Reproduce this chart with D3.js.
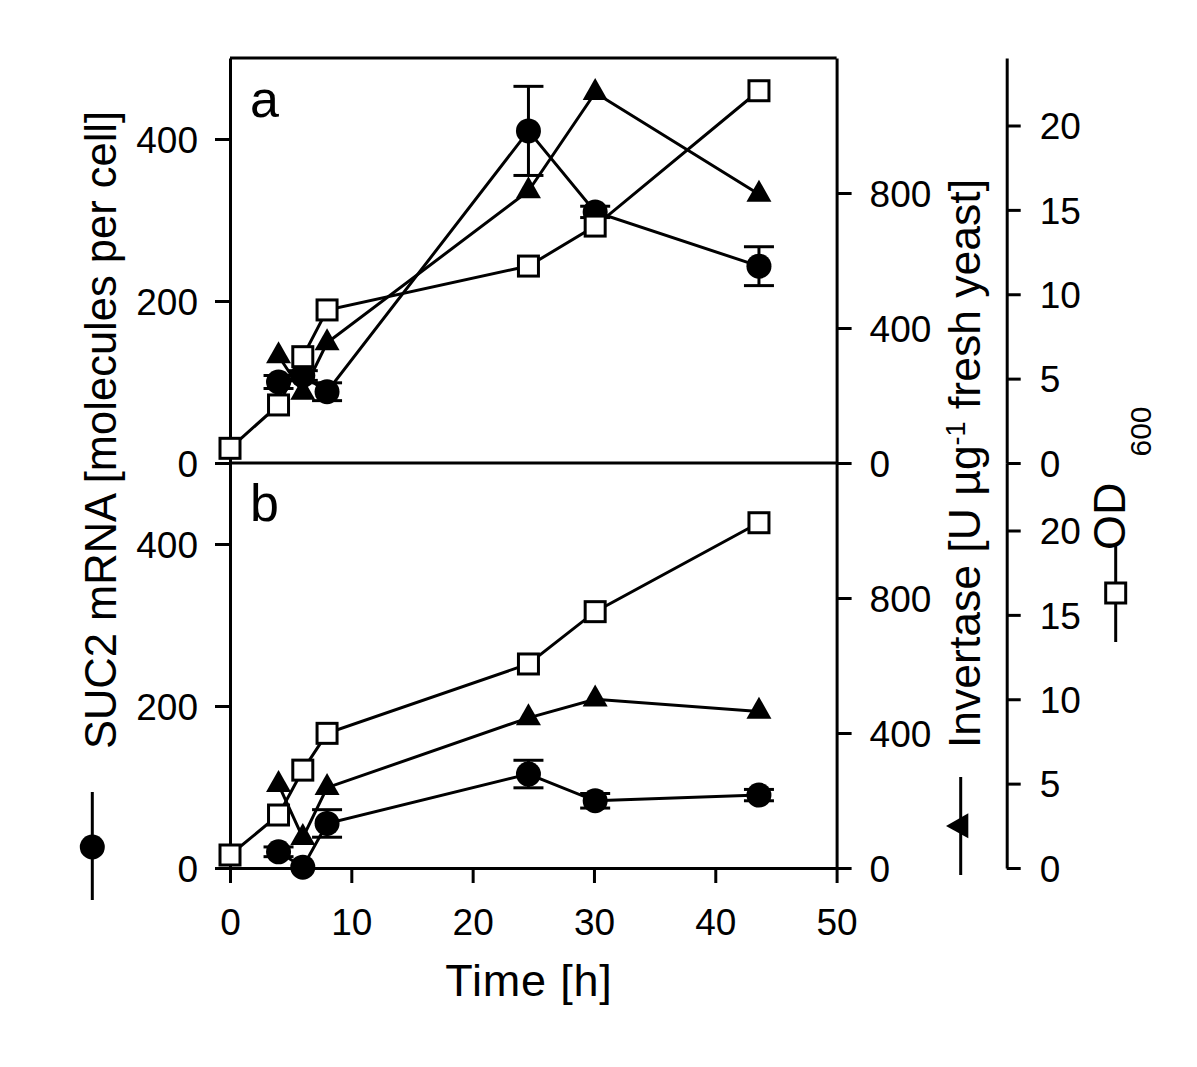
<!DOCTYPE html>
<html>
<head>
<meta charset="utf-8">
<script src="https://cdn.jsdelivr.net/npm/d3@7"></script>
<style>
  html, body { margin: 0; padding: 0; background: #fff; }
  svg text { font-family: "Liberation Sans", Arial, Helvetica, sans-serif; fill: #000; }
</style>
</head>
<body>
<svg id="chart" width="1197" height="1067"></svg>
<script>
// ---------------- data ----------------
const timeOD = [0, 4, 6, 8, 24.6, 30.1, 43.6];
const timeMR = [4, 6, 8, 24.6, 30.1, 43.6];

// panel a
const mrnaA    = [100, 108, 88, 410, 310, 243];
const mrnaAErr = [8, 6, 11, 55, 7, 24];
const invA     = [317, 209, 356, 806, 1097, 796];
const odA      = [0.87, 3.44, 6.3, 9.07, 11.67, 14.04, 22.06];

// panel b
const mrnaB    = [20, 1, 55, 116, 83, 90];
const mrnaBErr = [6, 0, 17, 17, 9, 7];
const invB     = [247, 90, 238, 445, 500, 464];
const odB      = [0.77, 3.14, 5.8, 7.98, 12.09, 15.19, 20.46];

const xTicks    = [0, 10, 20, 30, 40, 50];
const mrnaTicks = [0, 200, 400];
const invTicks  = [0, 400, 800];
const odTicks   = [0, 5, 10, 15, 20];

// ---------------- layout ----------------
const svg = d3.select("#chart");
svg.append("rect").attr("width", 1197).attr("height", 1067).attr("fill", "#fff");

const L = 230, R = 836.6, T = 58, M = 463, B = 868, OD_X = 1006.7;
const x = d3.scaleLinear().domain([0, 50]).range([L, R]);

const panels = [
  { top: T, bottom: M, mrna: mrnaA, err: mrnaAErr, inv: invA, od: odA, label: "a" },
  { top: M, bottom: B, mrna: mrnaB, err: mrnaBErr, inv: invB, od: odB, label: "b" }
];

const SW = 3;
const FS_TICK = 37;

function styleAxis(g) {
  g.selectAll("path.domain").attr("stroke", "#000").attr("stroke-width", SW);
  g.selectAll(".tick line").attr("stroke", "#000").attr("stroke-width", SW);
  g.selectAll(".tick text").attr("font-size", FS_TICK)
    .attr("font-family", '"Liberation Sans", Arial, sans-serif').attr("fill", "#000");
}

panels.forEach(p => {
  p.y = d3.scaleLinear().domain([0, 500]).range([p.bottom, p.top]);
  p.yi = d3.scaleLinear().domain([0, 1200]).range([p.bottom, p.top]);
  p.yo = d3.scaleLinear().domain([0, 24]).range([p.bottom, p.top]);

  // left axis
  const gl = svg.append("g").attr("transform", `translate(${L},0)`)
    .call(d3.axisLeft(p.y).tickValues(mrnaTicks).tickSize(15).tickSizeOuter(0).tickPadding(17));
  styleAxis(gl);
  gl.selectAll(".tick text").attr("dy", "0.36em");

  // right invertase axis
  const gr = svg.append("g").attr("transform", `translate(${R},0)`)
    .call(d3.axisRight(p.yi).tickValues(invTicks).tickSize(15).tickSizeOuter(0).tickPadding(18));
  styleAxis(gr);
  gr.selectAll(".tick text").attr("dy", "0.36em");

  // OD axis
  const go = svg.append("g").attr("transform", `translate(${OD_X},0)`)
    .call(d3.axisRight(p.yo).tickValues(odTicks).tickSize(14).tickSizeOuter(0).tickPadding(19));
  styleAxis(go);
  go.selectAll(".tick text").attr("dy", "0.36em");
});

// frame top/middle lines
[T, M].forEach(yy => {
  svg.append("line").attr("x1", L).attr("x2", R).attr("y1", yy).attr("y2", yy)
    .attr("stroke", "#000").attr("stroke-width", SW);
});

// x axis
const gx = svg.append("g").attr("transform", `translate(0,${B})`)
  .call(d3.axisBottom(x).tickValues(xTicks).tickSize(15).tickSizeOuter(0).tickPadding(26));
styleAxis(gx);

// ---------------- series ----------------
const lineGen = (ys, ts) => d3.line().x((d, i) => x(ts[i])).y((d) => ys(d));

function triPath(cx, cy) {
  const w = 25, h = 22;
  return `M${cx},${cy - h * 2 / 3} L${cx + w / 2},${cy + h / 3} L${cx - w / 2},${cy + h / 3} Z`;
}

panels.forEach(p => {
  const g = svg.append("g");

  // lines
  g.append("path").datum(p.mrna).attr("d", lineGen(p.y, timeMR))
    .attr("fill", "none").attr("stroke", "#000").attr("stroke-width", SW);
  g.append("path").datum(p.inv).attr("d", lineGen(p.yi, timeMR))
    .attr("fill", "none").attr("stroke", "#000").attr("stroke-width", SW);
  g.append("path").datum(p.od).attr("d", lineGen(p.yo, timeOD))
    .attr("fill", "none").attr("stroke", "#000").attr("stroke-width", SW);

  // error bars
  p.mrna.forEach((v, i) => {
    const e = p.err[i];
    if (e <= 0) return;
    const cx = x(timeMR[i]);
    const y1 = p.y(v + e), y2 = p.y(v - e);
    g.append("line").attr("x1", cx).attr("x2", cx).attr("y1", y1).attr("y2", y2)
      .attr("stroke", "#000").attr("stroke-width", SW);
    [y1, y2].forEach(yy => g.append("line").attr("x1", cx - 15).attr("x2", cx + 15)
      .attr("y1", yy).attr("y2", yy).attr("stroke", "#000").attr("stroke-width", SW));
  });

  // circles
  g.selectAll(null).data(p.mrna).join("circle")
    .attr("cx", (d, i) => x(timeMR[i])).attr("cy", d => p.y(d)).attr("r", 12.5)
    .attr("fill", "#000");

  // triangles
  g.selectAll(null).data(p.inv).join("path")
    .attr("d", (d, i) => triPath(x(timeMR[i]), p.yi(d))).attr("fill", "#000");

  // squares
  g.selectAll(null).data(p.od).join("rect")
    .attr("x", (d, i) => x(timeOD[i]) - 10).attr("y", d => p.yo(d) - 10)
    .attr("width", 20).attr("height", 20)
    .attr("fill", "#fff").attr("stroke", "#000").attr("stroke-width", SW);

  // panel letter
  svg.append("text").attr("x", 250).attr("y", p.label === "a" ? 117 : 521)
    .attr("font-size", 52).text(p.label);
});

// ---------------- titles ----------------
svg.append("text").attr("x", 529).attr("y", 996).attr("text-anchor", "middle")
  .attr("font-size", 45).attr("letter-spacing", 0.8).text("Time [h]");

svg.append("text").attr("transform", "translate(116,430) rotate(-90)")
  .attr("text-anchor", "middle").attr("font-size", 43.5)
  .text("SUC2 mRNA [molecules per cell]");

const invT = svg.append("text").attr("transform", "translate(980,463.5) rotate(-90)")
  .attr("text-anchor", "middle").attr("font-size", 44.5);
invT.append("tspan").text("Invertase [U \u00B5g");
invT.append("tspan").attr("font-size", 27).attr("dy", -15).text("-1");
invT.append("tspan").attr("dy", 15).text(" fresh yeast]");

const odT = svg.append("text").attr("transform", "translate(1125,550) rotate(-90)")
  .attr("text-anchor", "start").attr("font-size", 45);
odT.append("tspan").text("OD");
odT.append("tspan").attr("font-size", 30).attr("dy", 26).attr("dx", 26).text("600");

// ---------------- legend symbols on titles ----------------
// circle symbol (left)
svg.append("line").attr("x1", 92.3).attr("x2", 92.3).attr("y1", 792).attr("y2", 900)
  .attr("stroke", "#000").attr("stroke-width", SW);
svg.append("circle").attr("cx", 92.3).attr("cy", 847).attr("r", 12.5).attr("fill", "#000");

// triangle symbol (invertase), pointing left
svg.append("line").attr("x1", 960.7).attr("x2", 960.7).attr("y1", 777).attr("y2", 875)
  .attr("stroke", "#000").attr("stroke-width", SW);
svg.append("path").attr("d", "M946,826 L968.3,813.3 L968.3,838.3 Z").attr("fill", "#000");

// square symbol (OD)
svg.append("line").attr("x1", 1115.7).attr("x2", 1115.7).attr("y1", 545).attr("y2", 642)
  .attr("stroke", "#000").attr("stroke-width", SW);
svg.append("rect").attr("x", 1105.7).attr("y", 583).attr("width", 20).attr("height", 20)
  .attr("fill", "#fff").attr("stroke", "#000").attr("stroke-width", SW);
</script>
</body>
</html>
